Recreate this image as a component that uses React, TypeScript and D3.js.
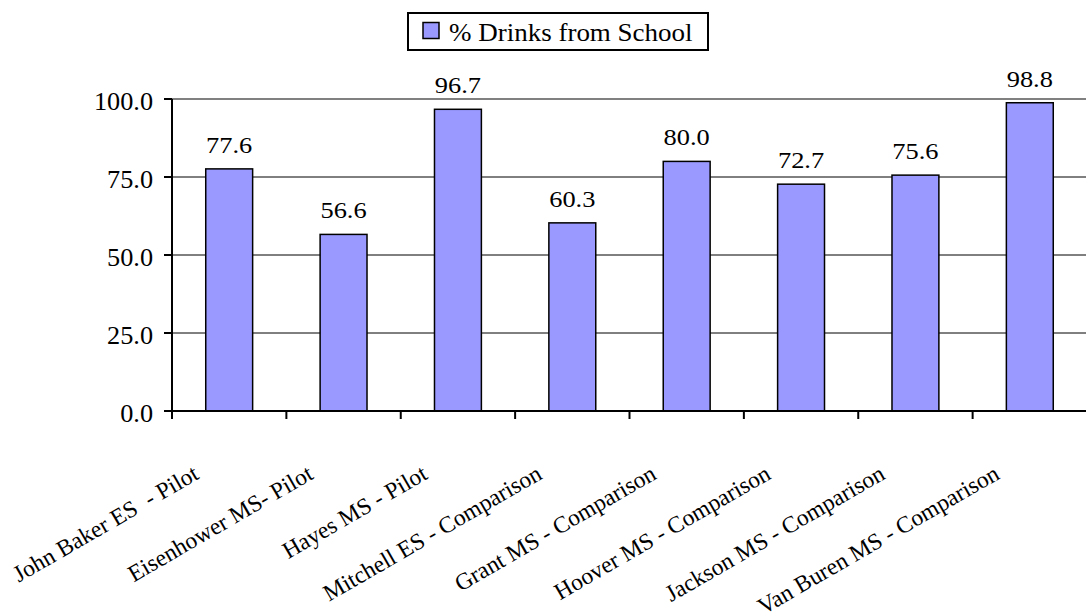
import React, { useRef, useEffect } from "react";
import * as d3 from "d3";

// chart data
const schools: string[] = [
  "John Baker ES  - Pilot",
  "Eisenhower MS- Pilot",
  "Hayes MS - Pilot",
  "Mitchell ES - Comparison",
  "Grant MS - Comparison",
  "Hoover MS - Comparison",
  "Jackson MS - Comparison",
  "Van Buren MS - Comparison",
];
const drinksFromSchool: number[] = [77.6, 56.6, 96.7, 60.3, 80.0, 72.7, 75.6, 98.8];
const yTicks: number[] = [0, 25, 50, 75, 100];
const seriesName = "% Drinks from School";

const W = 1086;
const H = 614;
const FONT = '"Liberation Serif", "DejaVu Serif", serif';

function App() {
  const svgRef = useRef<SVGSVGElement>(null);

  useEffect(() => {
    const svg = d3.select(svgRef.current);
    svg.selectAll("*").remove();

    const left = 172;
    const right = 1087;
    const top = 99;
    const bottom = 411;

    const x = d3
      .scaleBand<string>()
      .domain(schools)
      .range([left, right])
      .paddingInner(0.59)
      .paddingOuter(0.295);
    const step = x.step();
    const cx = (i: number) => (x(schools[i]) as number) + x.bandwidth() / 2;

    const y = d3.scaleLinear().domain([0, 100]).range([bottom, top]);

    const g = svg.append("g").style("font-family", FONT);

    // gridlines (top one is grey, like the plot area edge)
    g.selectAll("line.grid")
      .data(yTicks.filter((t) => t > 0))
      .enter()
      .append("line")
      .attr("class", "grid")
      .attr("x1", left)
      .attr("x2", right)
      .attr("y1", (d) => y(d))
      .attr("y2", (d) => y(d))
      .attr("stroke", (d) => (d === 100 ? "#808080" : "#000"))
      .attr("stroke-width", (d) => (d === 100 ? 2 : 1));

    // bars
    g.selectAll("rect.bar")
      .data(drinksFromSchool)
      .enter()
      .append("rect")
      .attr("class", "bar")
      .attr("x", (d, i) => x(schools[i]) as number)
      .attr("width", x.bandwidth())
      .attr("y", (d) => y(d))
      .attr("height", (d) => y(0) - y(d))
      .attr("fill", "#9999FF")
      .attr("stroke", "#000")
      .attr("stroke-width", 1.5);

    // data labels (the original is a bit stretched sideways)
    g.selectAll("text.val")
      .data(drinksFromSchool)
      .enter()
      .append("text")
      .attr("class", "val")
      .attr("transform", (d, i) => `translate(${cx(i)},${y(d) - 16}) scale(1.1,1)`)
      .attr("text-anchor", "middle")
      .style("font-size", "24px")
      .text((d) => d.toFixed(1));

    // y axis
    g.append("line")
      .attr("x1", left)
      .attr("x2", left)
      .attr("y1", top)
      .attr("y2", bottom + 8)
      .attr("stroke", "#000")
      .attr("stroke-width", 2);
    g.selectAll("line.ytick")
      .data(yTicks)
      .enter()
      .append("line")
      .attr("x1", left - 8)
      .attr("x2", left)
      .attr("y1", (d) => y(d))
      .attr("y2", (d) => y(d))
      .attr("stroke", "#000")
      .attr("stroke-width", 2);
    g.selectAll("text.ylab")
      .data(yTicks)
      .enter()
      .append("text")
      .attr("transform", (d) => `translate(153,${y(d) + 10.5}) scale(1.05,1)`)
      .attr("text-anchor", "end")
      .style("font-size", "25px")
      .text((d) => d.toFixed(1));

    // x axis
    g.append("line")
      .attr("x1", left)
      .attr("x2", right)
      .attr("y1", bottom)
      .attr("y2", bottom)
      .attr("stroke", "#000")
      .attr("stroke-width", 2);
    g.selectAll("line.xtick")
      .data(d3.range(1, schools.length + 1))
      .enter()
      .append("line")
      .attr("x1", (i) => left + i * step)
      .attr("x2", (i) => left + i * step)
      .attr("y1", bottom)
      .attr("y2", bottom + 8)
      .attr("stroke", "#000")
      .attr("stroke-width", 2);
    g.selectAll("text.xlab")
      .data(schools)
      .enter()
      .append("text")
      .attr("transform", (d, i) => `translate(${cx(i) - 29},478) rotate(-30)`)
      .attr("text-anchor", "end")
      .style("font-size", "23.5px")
      .style("white-space", "pre")
      .text((d) => d);

    // legend
    const lg = svg.append("g").style("font-family", FONT);
    lg.append("rect")
      .attr("x", 408)
      .attr("y", 13)
      .attr("width", 300)
      .attr("height", 37)
      .attr("fill", "#fff")
      .attr("stroke", "#000")
      .attr("stroke-width", 2);
    lg.append("rect")
      .attr("x", 423)
      .attr("y", 22.5)
      .attr("width", 16)
      .attr("height", 16)
      .attr("fill", "#9999FF")
      .attr("stroke", "#000")
      .attr("stroke-width", 1.5);
    lg.append("text")
      .attr("transform", "translate(449,41) scale(1.08,1)")
      .style("font-size", "25px")
      .text(seriesName);
  }, []);

  return (
    <svg
      ref={svgRef}
      width={W}
      height={H}
      style={{ position: "fixed", top: 0, left: 0, background: "#fff" }}
    ></svg>
  );
}

export default App;
